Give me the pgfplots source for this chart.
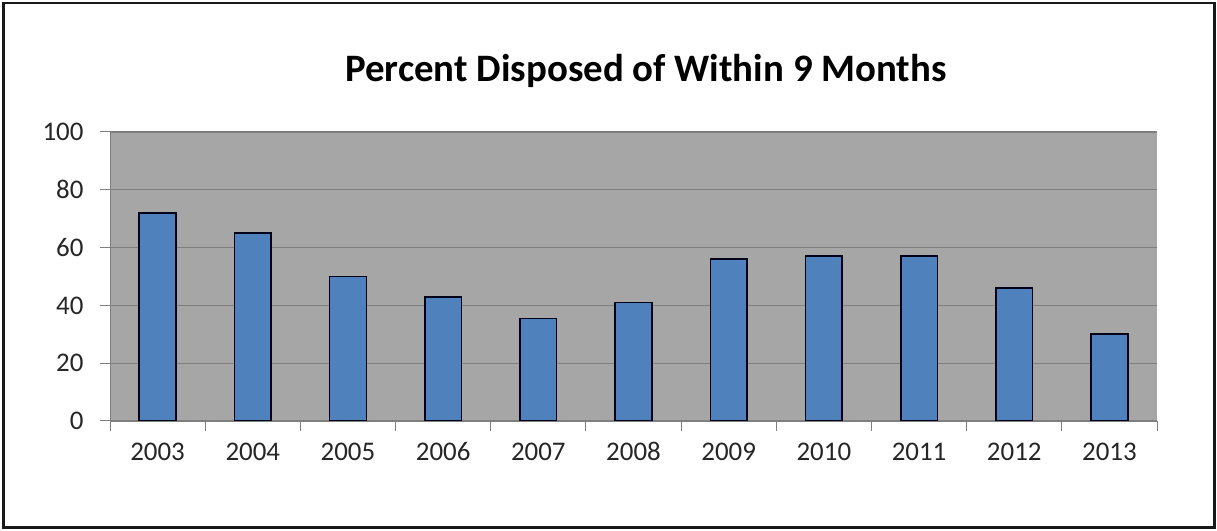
\documentclass[border=0pt]{standalone}
\usepackage{fontspec}
\setmainfont{Carlito}
\usepackage{pgfplots}
\pgfplotsset{compat=1.18}
\definecolor{bgray}{HTML}{A6A6A6}
\definecolor{ggray}{HTML}{7F7F7F}
\definecolor{barblue}{HTML}{4F81BD}
\definecolor{txt}{HTML}{262626}
\pgfplotstableread{
x year value
0 2003 72
1 2004 65
2 2005 50
3 2006 43
4 2007 35.5
5 2008 41
6 2009 56
7 2010 57
8 2011 57
9 2012 46
10 2013 30
}\datatable
\begin{document}
\begin{tikzpicture}[x=1bp,y=1bp]
\path[use as bounding box] (0,0) rectangle (1217,531);
\draw[line width=2.5bp, color=black!90] (3.5,3.5) rectangle (1214.5,528);
\node[font=\fontsize{39}{43}\selectfont\bfseries, anchor=base, text=black] at (646,449.3) {Percent Disposed of Within 9 Months};
\begin{axis}[
  at={(110bp,110bp)}, anchor=south west,
  scale only axis, width=1047bp, height=289bp,
  xmin=-0.5, xmax=10.5, ymin=0, ymax=100,
  ytick={0,20,...,100},
  xtick={0,...,10},
  xticklabels={2003,2004,2005,2006,2007,2008,2009,2010,2011,2012,2013},
  minor xtick={-0.5,0.5,...,10.5},
  tick align=outside,
  major tick length=10bp, minor tick length=10bp,
  major x tick style={draw=none},
  minor x tick style={draw=ggray, line width=1bp},
  major y tick style={draw=ggray, line width=1bp},
  axis x line*=bottom, axis y line*=left,
  axis line style={ggray, line width=1bp, -},
  ymajorgrids, grid style={ggray, line width=1.2bp},
  axis background/.style={fill=bgray},
  /pgf/number format/assume math mode=true,
  tick label style={font=\fontsize{27}{30}\selectfont, text=txt},
  xticklabel style={text height=17bp, text depth=0bp, yshift=-9bp},
  yticklabel style={xshift=-13bp},
  ybar, bar width=36.7bp,
]
\addplot[fill=barblue, draw=black!90!blue, line width=1.6bp] table[x=x, y=value] {\datatable};
\end{axis}
\end{tikzpicture}
\end{document}
